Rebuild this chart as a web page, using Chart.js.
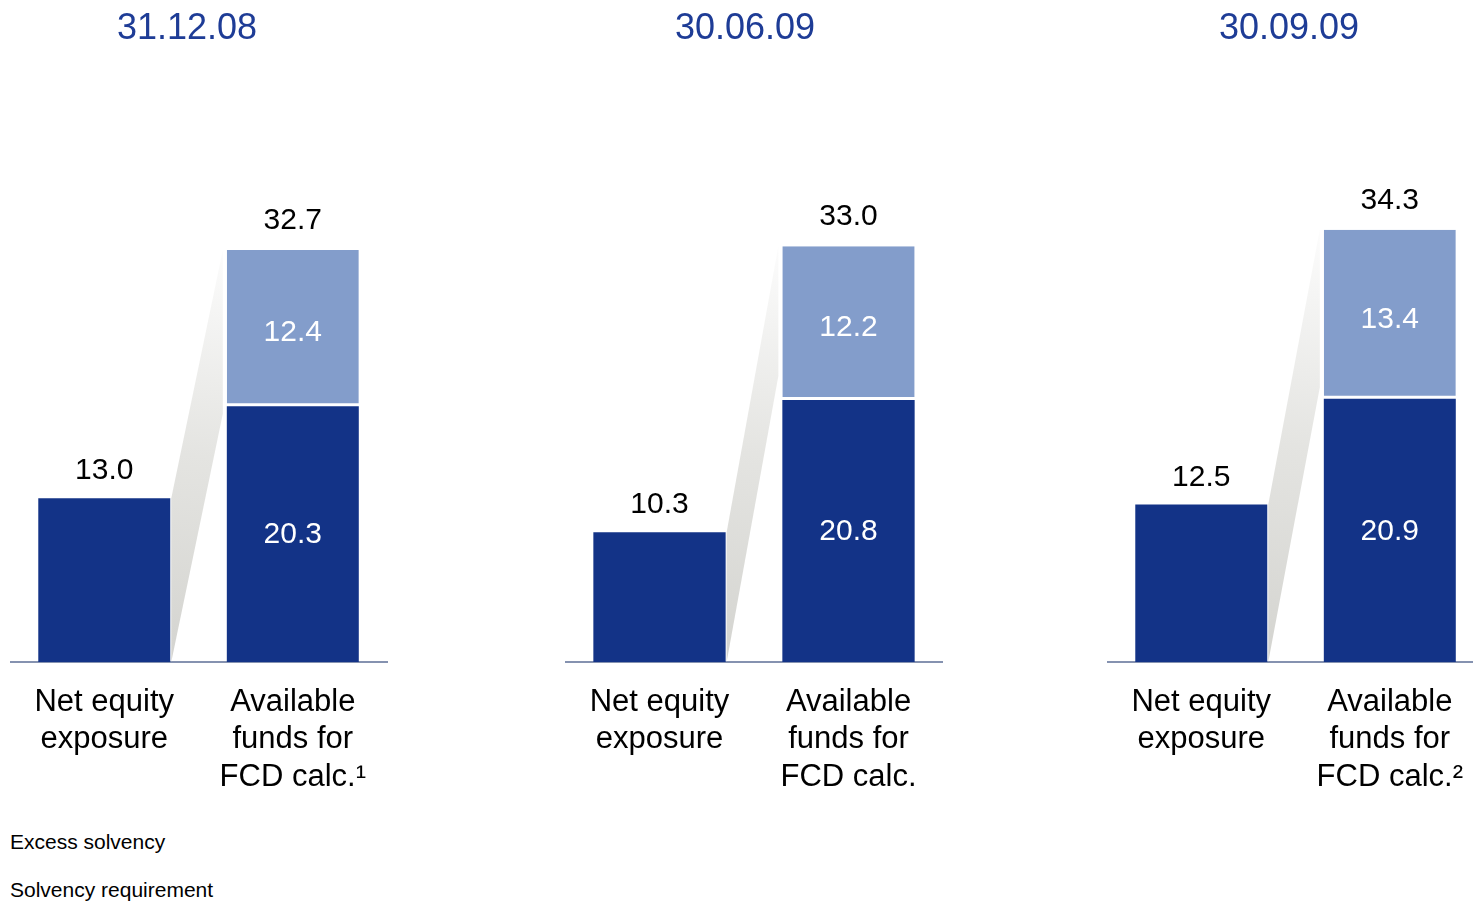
<!DOCTYPE html>
<html>
<head>
<meta charset="utf-8">
<script src="https://cdn.jsdelivr.net/npm/chart.js@4"></script>
<style>
  body { margin: 0; width: 1473px; height: 906px; overflow: hidden; background: #fff;
         font-family: "Liberation Sans", Arial, sans-serif; position: relative; }
  .panel { position: absolute; top: 0; width: 378px; height: 800px; }
  .date { position: absolute; top: 6px; font-size: 36px; color: #1E3C96; transform: translateX(-50%); white-space: nowrap; }
  .legend { position: absolute; left: 10px; font-size: 21px; color: #000; }
</style>
</head>
<body>
<div class="panel" style="left:10px"><canvas class="myChart"></canvas></div>
<div class="panel" style="left:565px"><canvas class="myChart"></canvas></div>
<div class="panel" style="left:1107px"><canvas class="myChart"></canvas></div>
<div class="date" style="left:187px">31.12.08</div>
<div class="date" style="left:745px">30.06.09</div>
<div class="date" style="left:1289px">30.09.09</div>
<div class="legend" style="top:830px">Excess solvency</div>
<div class="legend" style="top:878px">Solvency requirement</div>
<script>
const dates = ['31.12.08', '30.06.09', '30.09.09']
const netEquity = [13.0, 10.3, 12.5]
const solvencyReq = [20.3, 20.8, 20.9]
const excessSolvency = [12.4, 12.2, 13.4]
const footnotes = ['\u00B9', '', '\u00B2']

const darkBlue = '#133387'
const lightBlue = '#839DCB'

// grey "projection" between the net equity bar and the available funds bar
const shadePlugin = {
    id: 'shade',
    beforeDatasetsDraw(chart){
        const ctx = chart.ctx
        const y = chart.scales.y
        const b1 = chart.getDatasetMeta(0).data[0]
        const b2 = chart.getDatasetMeta(0).data[1]
        const v1 = chart.data.datasets[0].data[0]
        const total = chart.data.datasets[0].data[1] + chart.data.datasets[1].data[1]
        const x1 = b1.x + b1.width / 2 + 1
        const x2 = b2.x - b2.width / 2 - 4
        const grad = ctx.createLinearGradient(x1, y.getPixelForValue(0), x2, y.getPixelForValue(total))
        grad.addColorStop(0, 'rgba(212,212,208,1)')
        grad.addColorStop(0.5, 'rgba(228,228,225,1)')
        grad.addColorStop(1, 'rgba(252,252,252,1)')
        ctx.save()
        ctx.beginPath()
        ctx.moveTo(x1, y.getPixelForValue(v1))
        ctx.lineTo(x2, y.getPixelForValue(total))
        ctx.lineTo(x2, y.getPixelForValue(total - v1))
        ctx.lineTo(x1, y.getPixelForValue(0))
        ctx.closePath()
        ctx.fillStyle = grad
        ctx.fill()
        ctx.restore()
    }
}

// value labels: white inside the stack, black above the bars
const labelPlugin = {
    id: 'labels',
    afterDatasetsDraw(chart){
        const ctx = chart.ctx
        const y = chart.scales.y
        const ds = chart.data.datasets
        ctx.save()
        ctx.font = '30px "Liberation Sans", Arial, sans-serif'
        ctx.textAlign = 'center'
        ctx.textBaseline = 'middle'
        const m0 = chart.getDatasetMeta(0).data
        const m1 = chart.getDatasetMeta(1).data
        // net equity bar
        ctx.fillStyle = '#000'
        ctx.fillText(ds[0].data[0].toFixed(1), m0[0].x, m0[0].y - 27)
        // stacked bar
        const total = ds[0].data[1] + ds[1].data[1]
        ctx.fillText(total.toFixed(1), m1[1].x, y.getPixelForValue(total) - 29)
        ctx.fillStyle = '#fff'
        ctx.fillText(ds[0].data[1].toFixed(1), m0[1].x, (m0[1].y + m0[1].base) / 2 + 1)
        ctx.fillText(ds[1].data[1].toFixed(1), m1[1].x, (m1[1].y + m1[1].base) / 2 + 5)
        ctx.restore()
    }
}

const canvases = document.getElementsByClassName('myChart')

dates.map((date, i) => {
    const labels = [
        ['Net equity', 'exposure'],
        ['Available', 'funds for', 'FCD calc.' + footnotes[i]]
    ]
    const data = {
        labels: labels,
        datasets: [{
            label: 'Solvency requirement',
            backgroundColor: darkBlue,
            data: [netEquity[i], solvencyReq[i]],
            barPercentage: 0.7,
            categoryPercentage: 1
        },
        {
            label: 'Excess solvency',
            backgroundColor: lightBlue,
            borderColor: '#fff',
            borderWidth: {bottom: 3},
            borderSkipped: false,
            data: [null, excessSolvency[i]],
            barPercentage: 0.7,
            categoryPercentage: 1
        }]
    }
    return new Chart(canvases[i], {
        type: 'bar',
        data: data,
        plugins: [shadePlugin, labelPlugin],
        options: {
            responsive: true,
            maintainAspectRatio: false,
            animation: false,
            layout: { padding: { top: 32, left: 0, right: 0, bottom: 0 } },
            plugins: { legend: { display: false }, tooltip: { enabled: false } },
            scales: {
                x: {
                    stacked: true,
                    grid: { display: false, drawTicks: false },
                    border: { color: '#8592B0', width: 2 },
                    ticks: {
                        color: '#000',
                        padding: 22,
                        maxRotation: 0,
                        autoSkip: false,
                        font: { family: '"Liberation Sans", Arial, sans-serif', size: 31, lineHeight: 1.2 }
                    },
                    afterFit(scale){ scale.height = 138 }
                },
                y: {
                    stacked: true,
                    display: false,
                    min: 0,
                    max: 50
                }
            }
        }
    })
})
</script>
</body>
</html>
